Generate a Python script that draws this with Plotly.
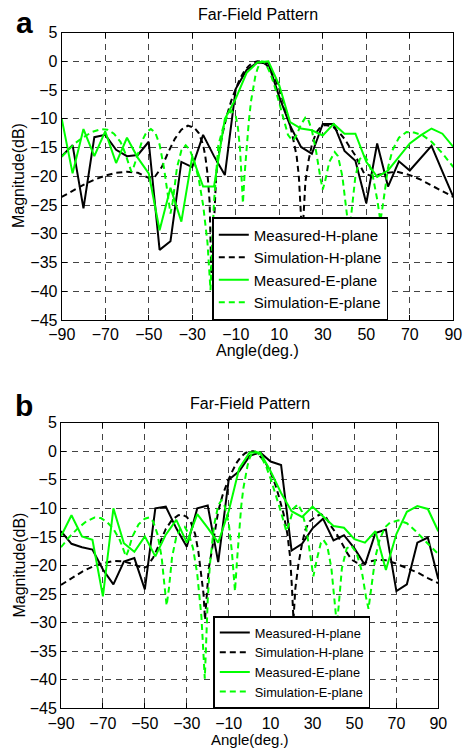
import plotly.graph_objects as go

# ---------------- data ----------------
ang_meas = list(range(-90, 95, 5))

# panel a
meas_h_a = [-16.5, -14.6, -25.6, -13.2, -12.8, -15.4, -16.5, -16.3, -14.0, -32.8,
            -31.3, -17.5, -18.4, -12.8, -16.5, -19.8, -4.8, -1.5, -0.2, -0.4,
            -6.2, -11.2, -14.9, -16.1, -10.9, -10.9, -15.6, -17.3, -24.7, -14.3,
            -21.8, -17.4, -19.0, -16.9, -14.7, -19.2, -23.6]
meas_e_a = [-10.0, -19.5, -11.8, -16.5, -12.2, -17.7, -13.3, -16.8, -19.5, -29.4,
            -22.0, -27.9, -16.6, -21.8, -21.8, -10.0, -6.5, -2.0, -0.2, 0.0,
            -4.2, -10.6, -11.7, -12.0, -12.9, -10.9, -12.6, -12.6, -17.5, -20.1,
            -19.0, -16.6, -14.3, -12.9, -11.7, -12.6, -14.9]

sim_h_a_ang = [-90, -85, -80, -75, -70, -65, -60, -55, -50, -47, -44, -41, -38, -35, -32,
               -29, -27, -25, -24, -23, -22, -21.2, -20.5, -20, -19, -18, -16, -14, -12,
               -10, -8, -6, -4, -2, 0, 2, 4, 6, 8, 10, 12, 14, 16, 18, 19, 20, 20.4,
               21, 22, 23.5, 25, 27, 29, 31, 33, 35, 38, 40, 42, 45, 47, 49, 52, 55,
               60, 64, 70, 75, 80, 85, 90]
sim_h_a = [-23.6, -22.5, -21.5, -20.6, -19.9, -19.4, -19.2, -19.4, -20.3, -20.0, -18.4,
           -15.8, -13.5, -11.9, -11.2, -11.6, -12.5, -14.5, -16.5, -19.5, -24.5, -38.0,
           -32.0, -26.0, -20.0, -16.5, -12.5, -9.3, -6.8, -4.8, -3.0, -1.7, -0.8, -0.2,
           0.0, -0.1, -0.6, -1.5, -3.0, -4.8, -7.0, -9.6, -12.8, -16.5, -20.0, -27.0,
           -36.0, -28.0, -21.0, -17.2, -14.5, -12.4, -11.4, -11.1, -11.2, -11.5, -12.6,
           -13.5, -14.7, -16.4, -18.0, -19.5, -19.9, -19.8, -19.4, -19.2, -19.8, -20.6,
           -21.6, -22.6, -23.6]

sim_e_a_ang = [-90, -87, -84, -80, -76, -72, -69, -66, -63, -61, -59, -58, -57, -55, -53,
               -51, -49, -47, -45, -43, -41, -40, -39, -37, -35, -33, -31, -29, -27, -25,
               -23, -22, -21.6, -21, -20, -18, -16, -14, -12, -10, -9, -8, -7, -6.7, -6,
               -5, -4, -3, -2, -1, 0, 1, 2, 3, 4, 6, 8, 10, 12, 14, 16, 17, 18, 20, 22,
               23, 25, 27, 29, 30, 31, 33, 35.5, 37, 39, 41, 42, 43, 45, 47, 49, 51, 53,
               55, 56.5, 58, 60, 62, 65, 68.5, 72, 76, 80, 85, 90]
sim_e_a = [-16.6, -15.5, -14.3, -13.2, -12.3, -11.8, -11.9, -12.6, -14.0, -15.8, -18.0,
           -19.2, -18.5, -16.0, -13.8, -12.3, -11.8, -12.4, -14.5, -18.5, -24.0, -26.5,
           -24.5, -18.5, -15.5, -14.6, -15.5, -17.5, -20.5, -25.0, -31.5, -37.0, -39.8,
           -33.0, -24.5, -14.6, -11.8, -9.6, -8.6, -9.5, -11.5, -15.5, -22.0, -24.7,
           -20.0, -14.5, -10.5, -7.0, -4.5, -2.6, -1.3, -0.4, 0.0, -0.1, -0.6, -2.2,
           -4.5, -7.3, -10.2, -12.8, -13.8, -13.5, -12.8, -11.0, -9.8, -9.8, -12.0,
           -15.8, -20.5, -22.3, -21.0, -17.5, -15.8, -16.5, -20.0, -26.0, -29.5, -27.0,
           -20.0, -17.0, -16.4, -17.5, -20.0, -24.0, -27.8, -24.0, -18.5, -15.5, -13.3,
           -12.3, -12.4, -12.9, -14.0, -16.0, -18.4]

# panel b
meas_h_b = [-14.0, -16.2, -16.8, -17.2, -20.7, -23.3, -19.3, -18.7, -24.2, -10.0,
            -9.7, -13.5, -16.7, -10.0, -9.5, -19.4, -5.0, -3.5, -0.8, -0.2,
            -1.8, -2.4, -17.4, -16.2, -13.5, -11.8, -15.6, -14.7, -17.0, -19.9,
            -14.3, -13.7, -24.5, -23.3, -16.0, -15.1, -22.4]
meas_e_b = [-14.9, -11.2, -14.9, -15.5, -25.4, -10.0, -16.1, -17.6, -14.9, -18.4,
            -14.6, -12.0, -16.0, -11.0, -13.4, -16.0, -10.5, -3.0, -0.2, -0.2,
            -3.5, -7.3, -10.5, -11.5, -9.7, -11.4, -13.1, -13.4, -15.4, -16.0,
            -14.0, -20.8, -14.5, -10.6, -9.6, -10.1, -14.0]

sim_h_b_ang = [-90, -85, -80, -75, -71, -65, -60, -55, -51, -49, -46, -43, -40, -37, -34,
               -32, -30, -28, -26, -24.5, -23, -22, -21.3, -20.5, -19.5, -18, -16.5, -15,
               -13, -10.2, -8, -6, -4, -2, 0, 1.8, 4, 6, 7.4, 10, 12.2, 14, 16.2, 18,
               19.3, 20.2, 20.9, 21.8, 23.3, 25, 26.5, 28.5, 31.2, 34, 36.5, 39, 41.5,
               44, 46.5, 48.7, 51, 53.5, 57, 61.4, 65, 69.4, 75, 80.5, 85, 90]
sim_h_b = [-23.4, -22.2, -21.1, -20.2, -19.7, -19.2, -19.3, -19.8, -20.5, -20.2, -18.6,
           -16.2, -13.6, -12.0, -11.2, -11.1, -11.5, -12.5, -14.5, -17.5, -21.5, -25.0,
           -29.5, -25.0, -20.5, -17.3, -13.5, -10.5, -7.8, -5.0, -3.3, -1.9, -0.9, -0.3,
           0.0, 0.0, -0.5, -1.3, -1.9, -3.7, -5.8, -8.0, -11.0, -14.5, -18.5, -24.0,
           -29.5, -24.0, -19.7, -16.2, -13.8, -12.3, -11.5, -11.0, -11.6, -13.2, -14.5,
           -16.1, -17.8, -19.0, -19.5, -19.7, -19.3, -19.0, -19.1, -19.6, -20.4, -21.3,
           -22.2, -23.1]

sim_e_b_ang = [-90, -86, -82, -78, -74, -71, -68, -65, -62, -60, -59, -58, -56, -53, -50,
               -48, -46, -44, -42, -40.5, -39.6, -38.5, -37, -35, -33, -31, -29, -27, -25,
               -23, -22, -21.4, -20.8, -20, -19, -17, -15, -13.5, -12, -10, -8.5, -7, -6,
               -5, -4, -3, -2, -1, 0, 1, 2.5, 4, 6, 8, 10, 12, 14, 16, 17.5, 19, 21, 23,
               25, 27, 29, 30.4, 32, 34, 35.2, 37, 39, 41, 41.6, 42.5, 44, 46.3, 48.5, 51,
               53.5, 55.5, 56.7, 58, 60, 62, 64.6, 67, 71, 75, 79, 84, 90]
sim_e_b = [-16.8, -15.0, -13.5, -12.3, -11.6, -11.7, -12.4, -13.6, -15.5, -17.5, -18.4,
           -17.5, -15.0, -12.8, -11.8, -11.6, -12.3, -14.5, -18.5, -24.0, -27.0, -24.0,
           -18.5, -15.0, -13.5, -13.2, -14.5, -17.0, -21.5, -29.0, -35.0, -39.8, -34.0,
           -26.0, -20.0, -13.0, -9.5, -8.6, -9.5, -12.5, -17.5, -24.5, -19.0, -13.5,
           -9.5, -6.5, -4.2, -2.5, -1.2, -0.4, 0.0, -0.3, -1.3, -2.8, -4.8, -7.0, -9.5,
           -12.0, -14.0, -12.5, -10.0, -9.3, -10.6, -13.5, -18.5, -21.9, -19.0, -16.0,
           -15.5, -16.5, -20.5, -28.0, -30.4, -27.0, -20.5, -17.0, -16.5, -17.8, -21.0,
           -25.5, -27.6, -24.0, -18.5, -15.5, -13.3, -12.5, -12.1, -12.6, -13.9, -15.8,
           -18.0]

x_ticks = [-90, -70, -50, -30, -10, 10, 30, 50, 70, 90]
y_ticks = [-45, -40, -35, -30, -25, -20, -15, -10, -5, 0, 5]
names = ["Measured-H-plane", "Simulation-H-plane", "Measured-E-plane", "Simulation-E-plane"]

# ---------------- figure ----------------
W, H = 467, 749
FONT = "Liberation Sans, Arial, sans-serif"
GREEN = "#00ff00"


def px(x):
    return x / W


def py(y):
    return 1 - y / H


fig = go.Figure()

panels = [
    ("x", "y", "legend", meas_h_a, sim_h_a_ang, sim_h_a, meas_e_a, sim_e_a_ang, sim_e_a),
    ("x2", "y2", "legend2", meas_h_b, sim_h_b_ang, sim_h_b, meas_e_b, sim_e_b_ang, sim_e_b),
]
for xa, ya, lg, mh, sha, sh, me, sea, se in panels:
    fig.add_trace(go.Scatter(x=ang_meas, y=mh, mode="lines", name=names[0], xaxis=xa, yaxis=ya,
                             legend=lg, line=dict(color="black", width=2)))
    fig.add_trace(go.Scatter(x=sha, y=sh, mode="lines", name=names[1], xaxis=xa, yaxis=ya,
                             legend=lg, line=dict(color="black", width=2, dash="6px,4px")))
    fig.add_trace(go.Scatter(x=ang_meas, y=me, mode="lines", name=names[2], xaxis=xa, yaxis=ya,
                             legend=lg, line=dict(color=GREEN, width=2)))
    fig.add_trace(go.Scatter(x=sea, y=se, mode="lines", name=names[3], xaxis=xa, yaxis=ya,
                             legend=lg, line=dict(color=GREEN, width=2, dash="6px,4px")))

axis_common = dict(
    showline=True, linecolor="black", linewidth=1, mirror="ticks",
    ticks="inside", ticklen=5, tickcolor="black", tickwidth=1,
    showgrid=True, gridcolor="#444444", gridwidth=1, griddash="6px,5px",
    zeroline=False, automargin=False,
    tickfont=dict(family=FONT, size=16, color="black"),
)

fig.update_layout(
    width=W, height=H,
    margin=dict(l=0, r=0, t=0, b=0, pad=0, autoexpand=False),
    paper_bgcolor="white", plot_bgcolor="white",
    font=dict(family=FONT, color="black"),
    xaxis=dict(domain=[px(61.7), px(453.3)], range=[-90, 90], tickvals=x_ticks, anchor="y", **axis_common),
    yaxis=dict(domain=[py(320), py(32.5)], range=[-45, 5], tickvals=y_ticks, anchor="x", **axis_common),
    xaxis2=dict(domain=[px(61), px(438.3)], range=[-90, 90], tickvals=x_ticks, anchor="y2", **axis_common),
    yaxis2=dict(domain=[py(708.3), py(422.7)], range=[-45, 5], tickvals=y_ticks, anchor="x2", **axis_common),
    legend=dict(x=px(212.3), y=py(320), xanchor="left", yanchor="bottom",
                bgcolor="white", bordercolor="black", borderwidth=1.5,
                font=dict(family=FONT, size=15, color="black"), itemwidth=30,
                tracegroupgap=0),
    legend2=dict(x=px(213.3), y=py(708.3), xanchor="left", yanchor="bottom",
                 bgcolor="white", bordercolor="black", borderwidth=1.5,
                 font=dict(family=FONT, size=12.8, color="black"), itemwidth=30,
                 tracegroupgap=0),
    showlegend=True,
)

ann = []
def text(x, y, s, size, bold=False, angle=0):
    ann.append(dict(x=px(x), y=py(y), xref="paper", yref="paper", text=("<b>%s</b>" % s) if bold else s,
                    showarrow=False, xanchor="center", yanchor="middle", textangle=angle,
                    font=dict(family=FONT, size=size, color="black")))

text(257.5, 14, "Far-Field Pattern", 16)
text(249.7, 403, "Far-Field Pattern", 16)
text(24, 22, "a", 30, bold=True)
text(24, 406, "b", 30, bold=True)
text(257.5, 350, "Angle(deg.)", 16)
text(249.7, 739.5, "Angle(deg.)", 15)
text(19, 176, "Magnitude(dB)", 16, angle=-90)
text(19, 565.5, "Magnitude(dB)", 16, angle=-90)
fig.update_layout(annotations=ann)

fig.write_html("out.html", config={"displayModeBar": False},
               post_script="document.body.style.margin='0px';")
